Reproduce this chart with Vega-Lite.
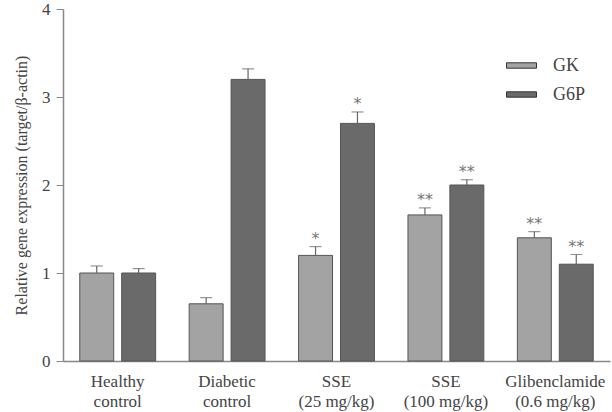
{
  "$schema": "https://vega.github.io/schema/vega-lite/v6.json",
  "width": 547,
  "height": 352,
  "autosize": "none",
  "padding": {"left": 63, "top": 9, "right": 2, "bottom": 51},
  "background": "white",
  "config": {
    "font": "Liberation Serif",
    "view": {"stroke": null},
    "axis": {"labelFont": "Liberation Serif", "titleFont": "Liberation Serif"},
    "legend": {"labelFont": "Liberation Serif"}
  },
  "data": {
    "values": [
      {"group": "Healthy|control", "gene": "GK", "value": 1.0, "top": 1.08, "star": ""},
      {"group": "Healthy|control", "gene": "G6P", "value": 1.0, "top": 1.05, "star": ""},
      {"group": "Diabetic|control", "gene": "GK", "value": 0.65, "top": 0.72, "star": ""},
      {"group": "Diabetic|control", "gene": "G6P", "value": 3.2, "top": 3.32, "star": ""},
      {"group": "SSE|(25 mg/kg)", "gene": "GK", "value": 1.2, "top": 1.3, "star": "*"},
      {"group": "SSE|(25 mg/kg)", "gene": "G6P", "value": 2.7, "top": 2.83, "star": "*"},
      {"group": "SSE|(100 mg/kg)", "gene": "GK", "value": 1.66, "top": 1.74, "star": "**"},
      {"group": "SSE|(100 mg/kg)", "gene": "G6P", "value": 2.0, "top": 2.06, "star": "**"},
      {"group": "Glibenclamide|(0.6 mg/kg)", "gene": "GK", "value": 1.4, "top": 1.47, "star": "**"},
      {"group": "Glibenclamide|(0.6 mg/kg)", "gene": "G6P", "value": 1.1, "top": 1.21, "star": "**"}
    ]
  },
  "encoding": {
    "x": {
      "field": "group",
      "type": "nominal",
      "sort": null,
      "scale": {"paddingInner": 0, "paddingOuter": 0},
      "axis": {
        "title": null,
        "labelAngle": 0,
        "labelExpr": "split(datum.label, '|')",
        "labelFont": "Liberation Serif",
        "labelFontSize": 17,
        "labelColor": "#444444",
        "labelLineHeight": 20,
        "labelPadding": 12,
        "ticks": false,
        "domainColor": "#888888",
        "domainWidth": 1.5
      }
    },
    "xOffset": {
      "field": "gene",
      "type": "nominal",
      "sort": ["GK", "G6P"],
      "scale": {"paddingInner": 0.19, "paddingOuter": 0.4}
    }
  },
  "layer": [
    {
      "mark": {"type": "bar", "stroke": "#555555", "strokeWidth": 1},
      "encoding": {
        "y": {
          "field": "value",
          "type": "quantitative",
          "scale": {"domain": [0, 4], "nice": false},
          "axis": {
            "title": "Relative gene expression (target/β-actin)",
            "titleFont": "Liberation Serif",
            "titleFontSize": 16,
            "titleFontWeight": "normal",
            "titleColor": "#444444",
            "titlePadding": 12,
            "values": [0, 1, 2, 3, 4],
            "format": "d",
            "grid": false,
            "labelFont": "Liberation Serif",
            "labelFontSize": 17,
            "labelColor": "#444444",
            "labelPadding": 6,
            "tickSize": 7,
            "tickColor": "#888888",
            "domainColor": "#888888",
            "domainWidth": 1.5
          }
        },
        "fill": {
          "field": "gene",
          "type": "nominal",
          "sort": ["GK", "G6P"],
          "scale": {"domain": ["GK", "G6P"], "range": ["#a3a3a3", "#6a6a6a"]},
          "legend": {
            "title": null,
            "orient": "none",
            "legendX": 443,
            "legendY": 41,
            "symbolType": "M-1,-0.18H1V0.18H-1Z",
            "symbolSize": 900,
            "symbolStrokeColor": "#333333",
            "symbolStrokeWidth": 1,
            "labelFont": "Liberation Serif",
            "labelFontSize": 18,
            "labelColor": "#444444",
            "labelOffset": 16,
            "rowPadding": 4,
            "padding": 0
          }
        }
      }
    },
    {
      "mark": {"type": "rule", "color": "#666666", "strokeWidth": 1.2},
      "encoding": {
        "y": {"field": "value", "type": "quantitative"},
        "y2": {"field": "top"}
      }
    },
    {
      "mark": {"type": "tick", "color": "#666666", "thickness": 1.2, "size": 12},
      "encoding": {
        "y": {"field": "top", "type": "quantitative"}
      }
    },
    {
      "mark": {"type": "text", "color": "#777777", "fontSize": 16, "dy": -8, "font": "DejaVu Sans"},
      "encoding": {
        "y": {"field": "top", "type": "quantitative"},
        "text": {"field": "star"}
      }
    }
  ]
}
